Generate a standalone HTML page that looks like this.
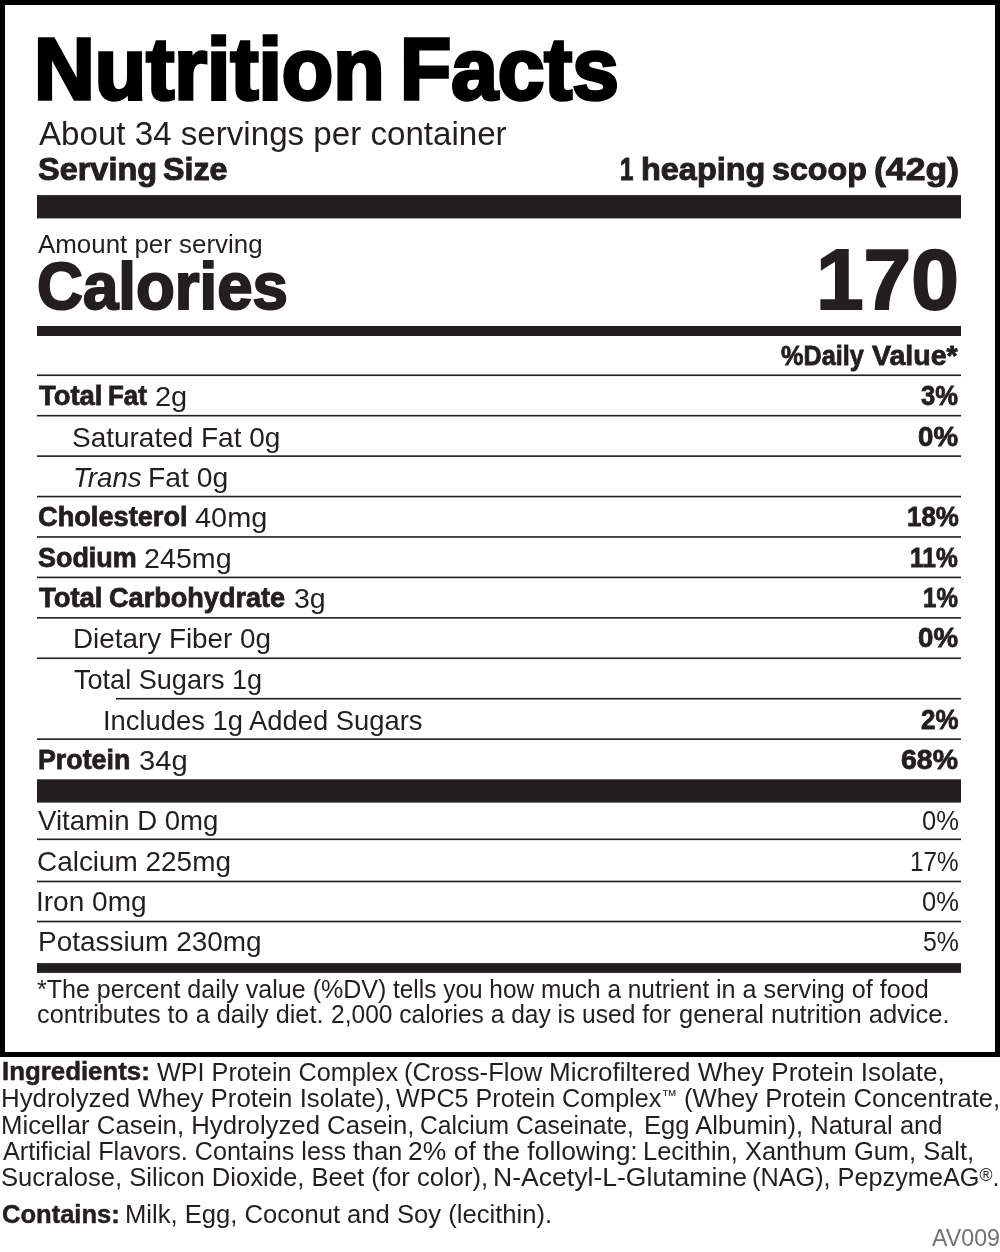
<!DOCTYPE html>
<html lang="en"><head><meta charset="utf-8"><title>Nutrition Facts</title>
<style>
html,body{margin:0;padding:0;background:#fff;}
body{width:1000px;height:1252px;position:relative;overflow:hidden;font-family:"Liberation Sans",sans-serif;}
.t{position:absolute;white-space:nowrap;line-height:1;transform-origin:0 50%;}
.s{position:relative;line-height:0;}
.rules{position:absolute;left:0;top:0;}
.page{position:absolute;left:0;top:0;width:1000px;height:1252px;will-change:transform;}
.box{position:absolute;left:0;top:0;width:990px;height:1047px;border:5px solid #000;}
</style></head>
<body>
<main class="page">
<div class="box"></div>
<svg class="rules" width="1000" height="1252" viewBox="0 0 1000 1252" fill="#231f20"><rect x="37" y="195.10" width="924" height="23.30"/><rect x="37" y="326.00" width="924" height="10.00"/><rect x="37" y="374.45" width="924" height="1.62"/><rect x="37" y="414.88" width="924" height="1.62"/><rect x="37" y="455.31" width="924" height="1.62"/><rect x="37" y="495.74" width="924" height="1.62"/><rect x="37" y="536.17" width="924" height="1.62"/><rect x="37" y="576.60" width="924" height="1.62"/><rect x="37" y="617.03" width="924" height="1.62"/><rect x="37" y="657.46" width="924" height="1.62"/><rect x="116" y="697.89" width="845" height="1.62"/><rect x="37" y="738.32" width="924" height="1.62"/><rect x="37" y="779.30" width="924" height="23.30"/><rect x="37" y="838.50" width="924" height="1.62"/><rect x="37" y="880.65" width="924" height="1.62"/><rect x="37" y="920.70" width="924" height="1.62"/><rect x="37" y="963.10" width="924" height="9.80"/></svg>
<section class="header">
<span class="t" style="left:33.61px;top:26.48px;font-size:86.5px;font-weight:700;color:#000;transform:scaleX(0.9731);-webkit-text-stroke:3.5px #000;">Nutrition</span>
<span class="t" style="left:400.13px;top:26.48px;font-size:86.5px;font-weight:700;color:#000;transform:scaleX(0.9682);-webkit-text-stroke:3.5px #000;">Facts</span>
<span class="t" style="left:38.80px;top:116.61px;font-size:33.4px;font-weight:400;color:#231f20;transform:scaleX(0.9919);">About 34 servings per container</span>
<span class="t" style="left:37.99px;top:152.63px;font-size:32.2px;font-weight:700;color:#231f20;transform:scaleX(1.0087);-webkit-text-stroke:1.0px #231f20;">Serving</span>
<span class="t" style="left:163.40px;top:152.63px;font-size:32.2px;font-weight:700;color:#231f20;transform:scaleX(1.0016);-webkit-text-stroke:1.0px #231f20;">Size</span>
<span class="t" style="left:620.20px;top:152.63px;font-size:32.2px;font-weight:700;color:#231f20;transform:scaleX(0.7508);-webkit-text-stroke:1.0px #231f20;">1</span>
<span class="t" style="left:640.98px;top:152.63px;font-size:32.2px;font-weight:700;color:#231f20;transform:scaleX(1.0083);-webkit-text-stroke:1.0px #231f20;">heaping</span>
<span class="t" style="left:772.00px;top:152.63px;font-size:32.2px;font-weight:700;color:#231f20;transform:scaleX(1.0009);-webkit-text-stroke:1.0px #231f20;">scoop</span>
<span class="t" style="left:873.89px;top:152.63px;font-size:32.2px;font-weight:700;color:#231f20;transform:scaleX(1.1067);-webkit-text-stroke:1.0px #231f20;">(42g)</span>
</section>
<section class="calories">
<span class="t" style="left:37.80px;top:231.31px;font-size:26.7px;font-weight:400;color:#231f20;transform:scaleX(0.9704);">Amount per serving</span>
<span class="t" style="left:37.10px;top:252.52px;font-size:66.8px;font-weight:700;color:#231f20;transform:scaleX(0.9519);-webkit-text-stroke:2.1px #231f20;">Calories</span>
<span class="t" style="left:815.97px;top:237.15px;font-size:85px;font-weight:700;color:#231f20;transform:scaleX(1.0074);-webkit-text-stroke:2.0px #231f20;">170</span>
</section>
<section class="daily">
<span class="t" style="left:781.00px;top:342.45px;font-size:27.7px;font-weight:700;color:#231f20;transform:scaleX(0.9121);-webkit-text-stroke:0.8px #231f20;">%Daily</span>
<span class="t" style="left:872.40px;top:342.45px;font-size:27.7px;font-weight:700;color:#231f20;transform:scaleX(1.0313);-webkit-text-stroke:0.8px #231f20;">Value*</span>
<span class="t" style="left:38.60px;top:382.25px;font-size:27.7px;font-weight:700;color:#231f20;transform:scaleX(0.9905);-webkit-text-stroke:0.8px #231f20;">Total</span>
<span class="t" style="left:108.07px;top:382.25px;font-size:27.7px;font-weight:700;color:#231f20;transform:scaleX(0.9341);-webkit-text-stroke:0.8px #231f20;">Fat</span>
<span class="t" style="left:155.48px;top:381.57px;font-size:28.5px;font-weight:400;color:#231f20;transform:scaleX(1.0172);">2g</span>
<span class="t" style="left:921.00px;top:382.25px;font-size:27.7px;font-weight:700;color:#231f20;transform:scaleX(0.9250);-webkit-text-stroke:0.8px #231f20;">3%</span>
<span class="t" style="left:72.44px;top:422.57px;font-size:28.5px;font-weight:400;color:#231f20;transform:scaleX(0.9812);">Saturated Fat 0g</span>
<span class="t" style="left:918.00px;top:423.25px;font-size:27.7px;font-weight:700;color:#231f20;transform:scaleX(1.0000);-webkit-text-stroke:0.8px #231f20;">0%</span>
<span class="t" style="left:72.59px;top:462.57px;font-size:28.5px;font-weight:400;color:#231f20;transform:scaleX(0.9701);font-style:italic;">Trans</span>
<span class="t" style="left:147.51px;top:462.57px;font-size:28.5px;font-weight:400;color:#231f20;transform:scaleX(0.9935);">Fat 0g</span>
<span class="t" style="left:38.22px;top:503.25px;font-size:27.7px;font-weight:700;color:#231f20;transform:scaleX(0.9820);-webkit-text-stroke:0.8px #231f20;">Cholesterol</span>
<span class="t" style="left:195.49px;top:502.57px;font-size:28.5px;font-weight:400;color:#231f20;transform:scaleX(1.0147);">40mg</span>
<span class="t" style="left:906.56px;top:503.25px;font-size:27.7px;font-weight:700;color:#231f20;transform:scaleX(0.9352);-webkit-text-stroke:0.8px #231f20;">18%</span>
<span class="t" style="left:38.03px;top:544.25px;font-size:27.7px;font-weight:700;color:#231f20;transform:scaleX(0.9727);-webkit-text-stroke:0.8px #231f20;">Sodium</span>
<span class="t" style="left:143.99px;top:543.57px;font-size:28.5px;font-weight:400;color:#231f20;transform:scaleX(1.0060);">245mg</span>
<span class="t" style="left:910.11px;top:544.25px;font-size:27.7px;font-weight:700;color:#231f20;transform:scaleX(0.8868);-webkit-text-stroke:0.8px #231f20;">11%</span>
<span class="t" style="left:38.60px;top:584.25px;font-size:27.7px;font-weight:700;color:#231f20;transform:scaleX(0.9905);-webkit-text-stroke:0.8px #231f20;">Total</span>
<span class="t" style="left:108.94px;top:584.25px;font-size:27.7px;font-weight:700;color:#231f20;transform:scaleX(0.9784);-webkit-text-stroke:0.8px #231f20;">Carbohydrate</span>
<span class="t" style="left:294.00px;top:583.57px;font-size:28.5px;font-weight:400;color:#231f20;transform:scaleX(1.0000);">3g</span>
<span class="t" style="left:923.13px;top:584.25px;font-size:27.7px;font-weight:700;color:#231f20;transform:scaleX(0.8718);-webkit-text-stroke:0.8px #231f20;">1%</span>
<span class="t" style="left:72.65px;top:623.57px;font-size:28.5px;font-weight:400;color:#231f20;transform:scaleX(0.9769);">Dietary Fiber 0g</span>
<span class="t" style="left:918.00px;top:624.25px;font-size:27.7px;font-weight:700;color:#231f20;transform:scaleX(1.0000);-webkit-text-stroke:0.8px #231f20;">0%</span>
<span class="t" style="left:73.81px;top:664.57px;font-size:28.5px;font-weight:400;color:#231f20;transform:scaleX(0.9500);">Total Sugars 1g</span>
<span class="t" style="left:102.72px;top:705.57px;font-size:28.5px;font-weight:400;color:#231f20;transform:scaleX(0.9602);">Includes 1g Added Sugars</span>
<span class="t" style="left:920.56px;top:706.25px;font-size:27.7px;font-weight:700;color:#231f20;transform:scaleX(0.9359);-webkit-text-stroke:0.8px #231f20;">2%</span>
<span class="t" style="left:38.03px;top:746.25px;font-size:27.7px;font-weight:700;color:#231f20;transform:scaleX(0.9677);-webkit-text-stroke:0.8px #231f20;">Protein</span>
<span class="t" style="left:138.98px;top:745.57px;font-size:28.5px;font-weight:400;color:#231f20;transform:scaleX(1.0222);">34g</span>
<span class="t" style="left:901.47px;top:746.25px;font-size:27.7px;font-weight:700;color:#231f20;transform:scaleX(1.0278);-webkit-text-stroke:0.8px #231f20;">68%</span>
</section>
<section class="vitamins">
<span class="t" style="left:38.10px;top:806.17px;font-size:28.5px;font-weight:400;color:#231f20;transform:scaleX(0.9679);">Vitamin D 0mg</span>
<span class="t" style="left:922.10px;top:806.17px;font-size:28.5px;font-weight:400;color:#231f20;transform:scaleX(0.8974);">0%</span>
<span class="t" style="left:36.54px;top:846.57px;font-size:28.5px;font-weight:400;color:#231f20;transform:scaleX(0.9794);">Calcium 225mg</span>
<span class="t" style="left:910.30px;top:846.57px;font-size:28.5px;font-weight:400;color:#231f20;transform:scaleX(0.8519);">17%</span>
<span class="t" style="left:36.13px;top:886.77px;font-size:28.5px;font-weight:400;color:#231f20;transform:scaleX(0.9832);">Iron 0mg</span>
<span class="t" style="left:922.10px;top:886.77px;font-size:28.5px;font-weight:400;color:#231f20;transform:scaleX(0.8974);">0%</span>
<span class="t" style="left:37.54px;top:927.17px;font-size:28.5px;font-weight:400;color:#231f20;transform:scaleX(0.9799);">Potassium 230mg</span>
<span class="t" style="left:923.13px;top:927.17px;font-size:28.5px;font-weight:400;color:#231f20;transform:scaleX(0.8718);">5%</span>
</section>
<section class="footnote">
<span class="t" style="left:37.10px;top:977.15px;font-size:25px;font-weight:400;color:#231f20;transform:scaleX(1.0018);">*The percent daily value (%DV)</span>
<span class="t" style="left:393.40px;top:977.15px;font-size:25px;font-weight:400;color:#231f20;transform:scaleX(0.9765);">tells you how much a nutrient</span>
<span class="t" style="left:716.38px;top:977.15px;font-size:25px;font-weight:400;color:#231f20;transform:scaleX(1.0077);">in a serving of food</span>
<span class="t" style="left:37.49px;top:1002.15px;font-size:25px;font-weight:400;color:#231f20;transform:scaleX(1.0104);">contributes to a daily diet.</span>
<span class="t" style="left:331.42px;top:1002.15px;font-size:25px;font-weight:400;color:#231f20;transform:scaleX(0.9821);">2,000 calories a day is used for</span>
<span class="t" style="left:678.98px;top:1002.15px;font-size:25px;font-weight:400;color:#231f20;transform:scaleX(1.0191);">general nutrition advice.</span>
</section>
<section class="ingredients">
<span class="t" style="left:1.98px;top:1059.09px;font-size:25.3px;font-weight:700;color:#231f20;transform:scaleX(1.0211);-webkit-text-stroke:0.5px #231f20;">Ingredients:</span>
<span class="t" style="left:157.00px;top:1060.09px;font-size:25.3px;font-weight:400;color:#231f20;transform:scaleX(0.9967);">WPI Protein Complex</span>
<span class="t" style="left:403.97px;top:1060.09px;font-size:25.3px;font-weight:400;color:#231f20;transform:scaleX(1.0149);">(Cross-Flow</span>
<span class="t" style="left:548.58px;top:1060.09px;font-size:25.3px;font-weight:400;color:#231f20;transform:scaleX(1.0270);">Microfiltered Whey Protein Isolate,</span>
<span class="t" style="left:0.96px;top:1086.49px;font-size:25.3px;font-weight:400;color:#231f20;transform:scaleX(1.0212);">Hydrolyzed Whey Protein Isolate),</span>
<span class="t" style="left:396.00px;top:1086.49px;font-size:25.3px;font-weight:400;color:#231f20;transform:scaleX(0.9929);">WPC5 Protein Complex<span class="s" style="font-size:16px;top:-6px">™</span></span>
<span class="t" style="left:683.97px;top:1086.49px;font-size:25.3px;font-weight:400;color:#231f20;transform:scaleX(1.0130);">(Whey Protein Concentrate,</span>
<span class="t" style="left:0.97px;top:1113.09px;font-size:25.3px;font-weight:400;color:#231f20;transform:scaleX(1.0174);">Micellar Casein, Hydrolyzed Casein,</span>
<span class="t" style="left:419.62px;top:1113.09px;font-size:25.3px;font-weight:400;color:#231f20;transform:scaleX(0.9750);">Calcium Caseinate,</span>
<span class="t" style="left:643.78px;top:1113.09px;font-size:25.3px;font-weight:400;color:#231f20;transform:scaleX(1.0110);">Egg Albumin), Natural and</span>
<span class="t" style="left:2.50px;top:1139.49px;font-size:25.3px;font-weight:400;color:#231f20;transform:scaleX(0.9962);">Artificial Flavors. Contains less than</span>
<span class="t" style="left:407.55px;top:1139.49px;font-size:25.3px;font-weight:400;color:#231f20;transform:scaleX(1.0472);">2% of the following:</span>
<span class="t" style="left:643.29px;top:1139.49px;font-size:25.3px;font-weight:400;color:#231f20;transform:scaleX(1.0065);">Lecithin, Xanthum Gum, Salt,</span>
<span class="t" style="left:0.97px;top:1164.99px;font-size:25.3px;font-weight:400;color:#231f20;transform:scaleX(1.0130);">Sucralose, Silicon Dioxide, Beet (for color),</span>
<span class="t" style="left:492.90px;top:1164.99px;font-size:25.3px;font-weight:400;color:#231f20;transform:scaleX(1.0502);">N-Acetyl-L-Glutamine</span>
<span class="t" style="left:752.00px;top:1164.99px;font-size:25.3px;font-weight:400;color:#231f20;transform:scaleX(0.9988);">(NAG), PepzymeAG<span class="s" style="font-size:17.7px;top:-4.5px">®</span>.</span>
</section>
<section class="contains">
<span class="t" style="left:1.99px;top:1201.99px;font-size:25.3px;font-weight:700;color:#231f20;transform:scaleX(1.0095);-webkit-text-stroke:0.5px #231f20;">Contains:</span>
<span class="t" style="left:125.17px;top:1201.99px;font-size:25.3px;font-weight:400;color:#231f20;transform:scaleX(1.0127);">Milk, Egg, Coconut and Soy (lecithin).</span>
</section>
<section class="code">
<span class="t" style="left:931.98px;top:1226.37px;font-size:23.8px;font-weight:400;color:#727272;transform:scaleX(0.9755);">AV009</span>
</section>
</main>
</body></html>
